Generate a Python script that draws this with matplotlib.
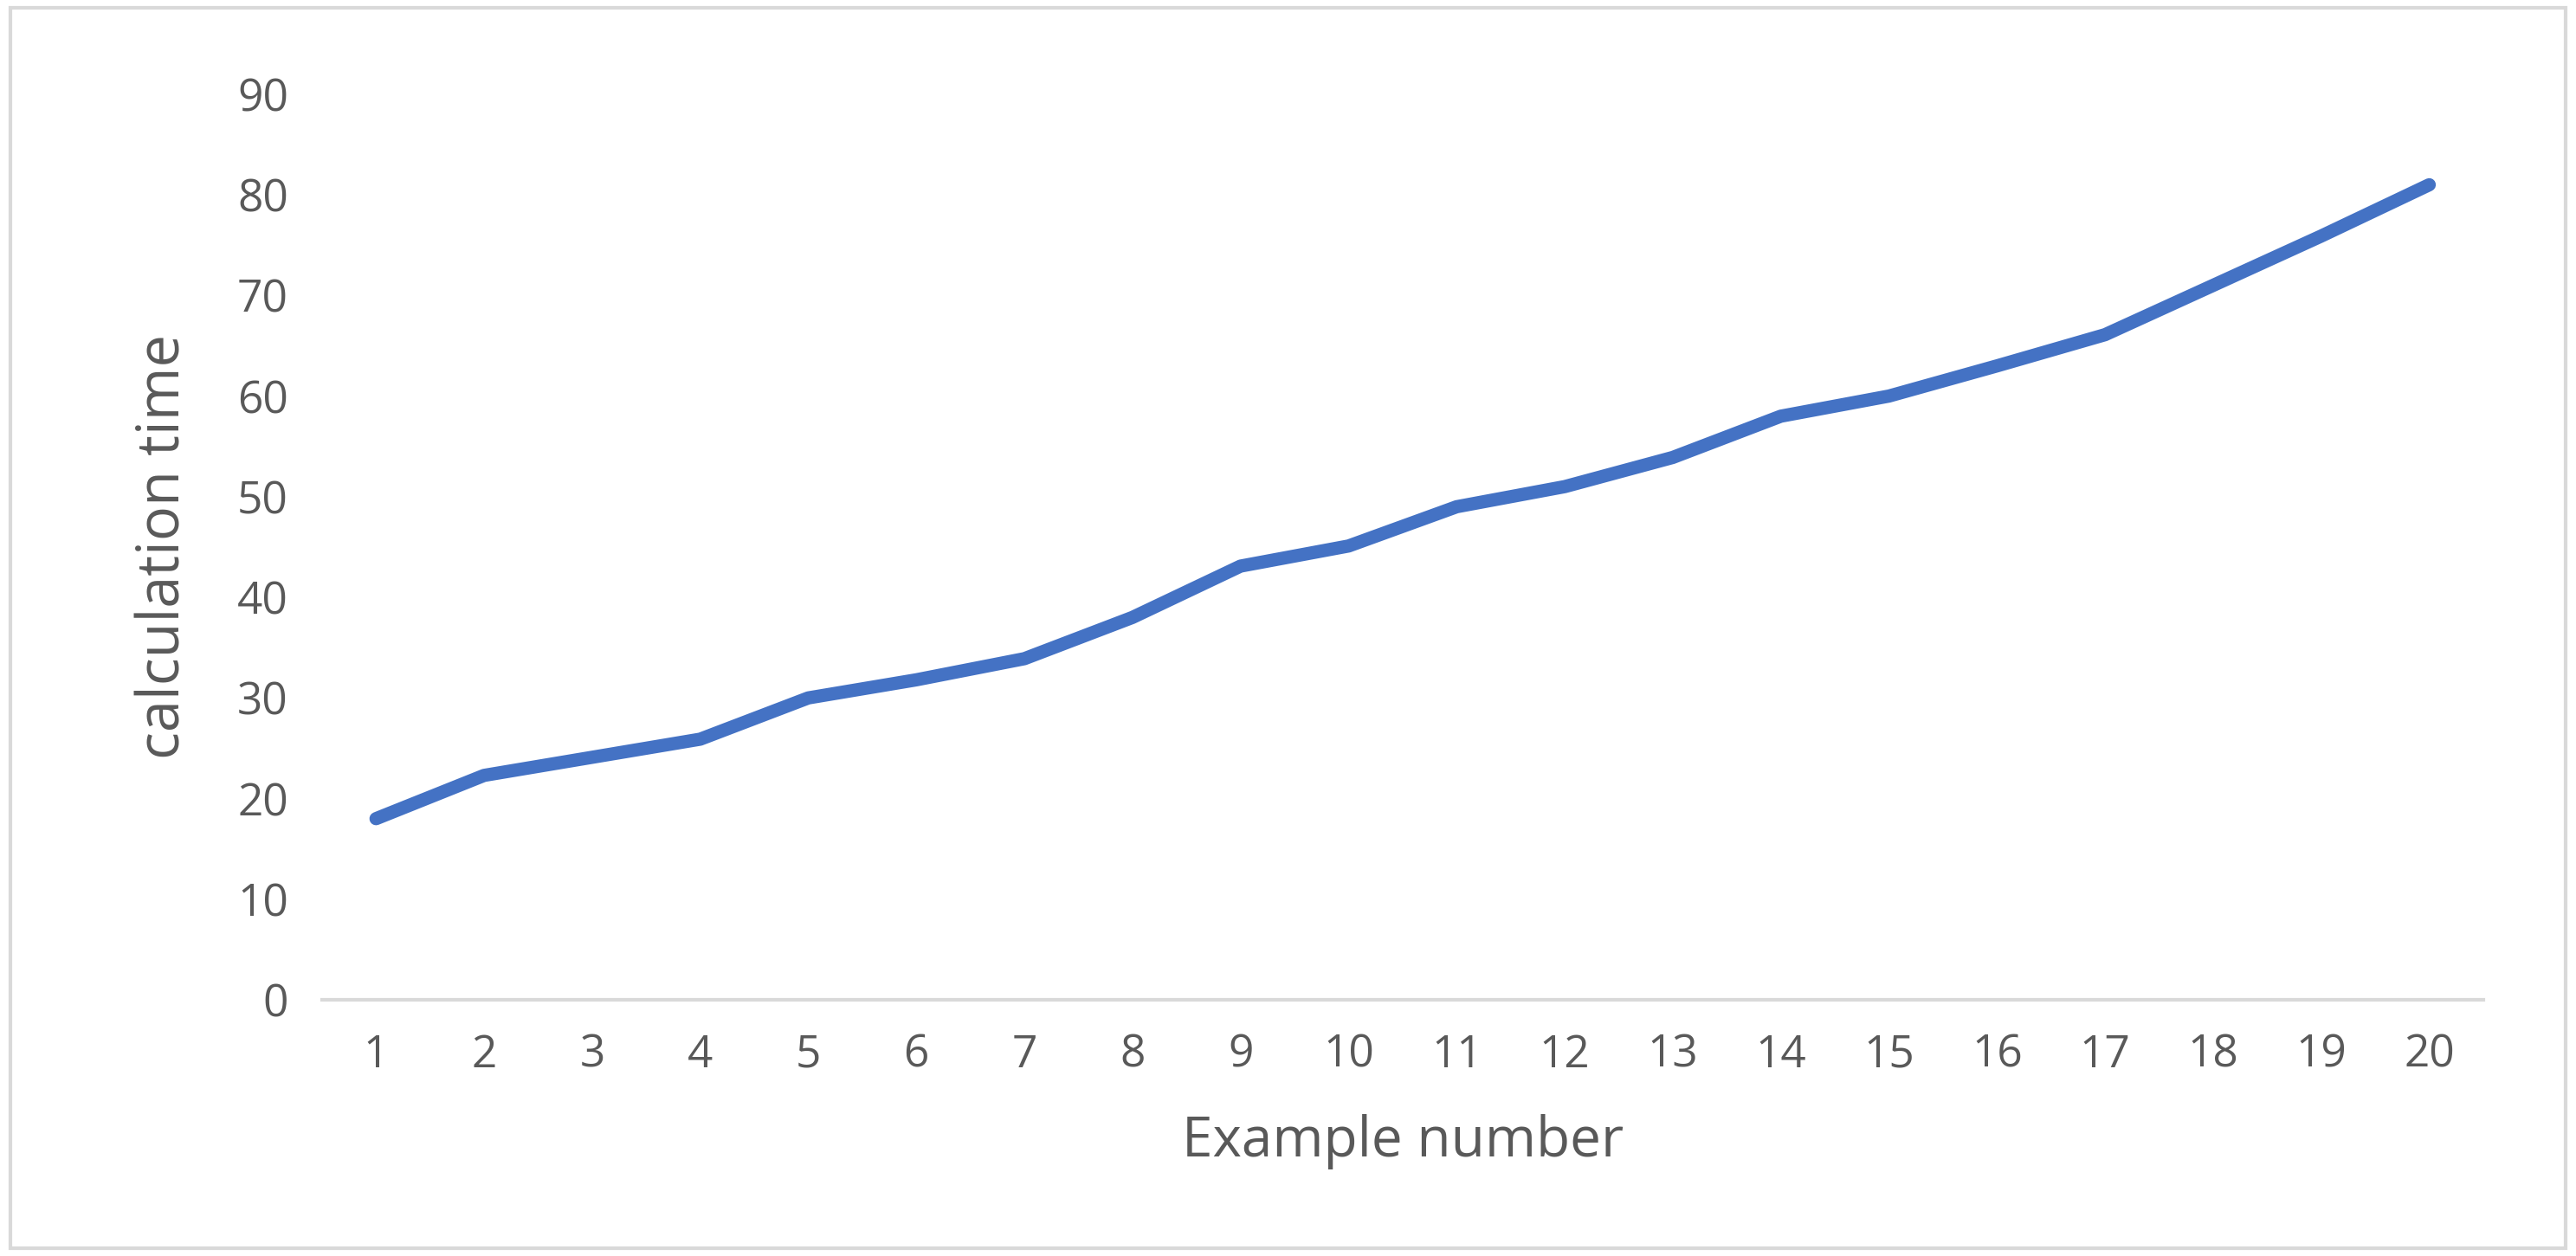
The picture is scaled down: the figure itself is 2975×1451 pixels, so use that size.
import matplotlib
matplotlib.use("Agg")
import matplotlib.pyplot as plt
from matplotlib.patches import Rectangle

examples = list(range(1, 21))
calc_time = [18.0, 22.3, 24.1, 25.9, 30.0, 31.8, 33.9, 38.0, 43.1, 45.1,
             49.0, 51.0, 53.9, 58.0, 60.0, 63.0, 66.1, 71.0, 75.9, 81.0]
yticks = list(range(0, 100, 10))

plt.rcParams['font.family'] = ['Open Sans', 'DejaVu Sans']
fig = plt.figure(figsize=(29.75, 14.51), dpi=100)
ax = fig.add_axes([0.125, 0.204, 0.839, 0.721])
ax.plot(examples, calc_time, color='#4472C4', linewidth=11, solid_capstyle='round')
ax.set_xlim(0.5, 20.5)
ax.set_ylim(0, 90)
ax.set_yticks(yticks)
ax.set_xticks(examples)
for s in ['top', 'right', 'left']:
    ax.spines[s].set_visible(False)
ax.spines['bottom'].set_color('#D9D9D9')
ax.spines['bottom'].set_linewidth(3)
ax.tick_params(length=0, labelsize=37, colors='#595959', pad=28)
ax.set_xlabel('Example number', fontsize=46, color='#595959', labelpad=30)
ax.set_ylabel('calculation time', fontsize=48, color='#595959', labelpad=36)
fig.patches.append(Rectangle((0.004, 0.006), 0.992, 0.988, transform=fig.transFigure,
                             fill=False, edgecolor='#D9D9D9', linewidth=3))
fig.savefig('out.png', dpi=100)
